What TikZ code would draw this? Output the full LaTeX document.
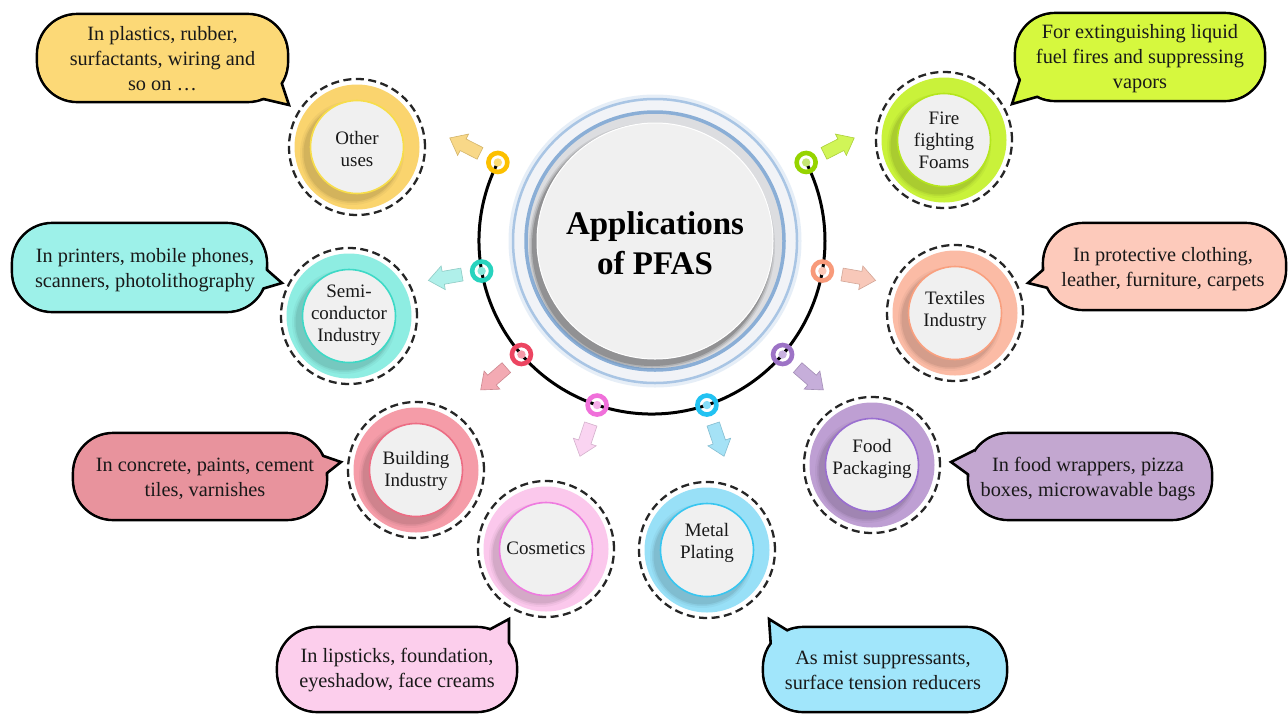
\documentclass[tikz,border=0pt]{standalone}
\usepackage{fontspec}
\setmainfont{Liberation Serif}
\definecolor{innerGray}{HTML}{F0F0F0}
\definecolor{yRing}{HTML}{FAD46E}\definecolor{yEdge}{HTML}{F7DD4A}\definecolor{yCall}{HTML}{FCD977}\definecolor{yDot}{HTML}{FCC000}\definecolor{yArr}{HTML}{F8D47C}
\definecolor{gRing}{HTML}{C9F23A}\definecolor{gEdge}{HTML}{B5E61D}\definecolor{gCall}{HTML}{D6F83E}\definecolor{gDot}{HTML}{96D400}\definecolor{gArr}{HTML}{CCF545}
\definecolor{tRing}{HTML}{8EEDE2}\definecolor{tEdge}{HTML}{3ED9C6}\definecolor{tCall}{HTML}{9DF1E9}\definecolor{tDot}{HTML}{27D3BE}\definecolor{tArr}{HTML}{A8EFE8}
\definecolor{oRing}{HTML}{FBBBA5}\definecolor{oEdge}{HTML}{F9A07F}\definecolor{oCall}{HTML}{FDCABB}\definecolor{oDot}{HTML}{F89A7A}\definecolor{oArr}{HTML}{F8C3B2}
\definecolor{rRing}{HTML}{F59CA8}\definecolor{rEdge}{HTML}{EC6D84}\definecolor{rCall}{HTML}{E8939D}\definecolor{rDot}{HTML}{EC4561}\definecolor{rArr}{HTML}{F2A1AB}
\definecolor{pRing}{HTML}{BE9FD3}\definecolor{pEdge}{HTML}{9A6FD0}\definecolor{pCall}{HTML}{C3A7D0}\definecolor{pDot}{HTML}{9D73C6}\definecolor{pArr}{HTML}{C0A6D6}
\definecolor{kRing}{HTML}{FBC8EC}\definecolor{kEdge}{HTML}{EE7BDF}\definecolor{kCall}{HTML}{FCCEEC}\definecolor{kDot}{HTML}{F070DA}\definecolor{kArr}{HTML}{FAD0F0}
\definecolor{bRing}{HTML}{98E0F7}\definecolor{bEdge}{HTML}{38C6F0}\definecolor{bCall}{HTML}{A1E6FB}\definecolor{bDot}{HTML}{22C2F2}\definecolor{bArr}{HTML}{9CDFF6}
\definecolor{cGlow}{HTML}{B8D0EA}\definecolor{cOut}{HTML}{F1F3F7}\definecolor{cRingA}{HTML}{A9C5E4}\definecolor{cRingB}{HTML}{8AAED6}\definecolor{cMid}{HTML}{DCDDE0}
\tikzset{
 dashring/.style={draw=black!85, line width=2.3pt, dash pattern=on 8pt off 4.5pt},
 nodetext/.style={align=center, font=\fontsize{19}{22}\selectfont, text=black!90, inner sep=0pt},
 calltext/.style={align=center, font=\fontsize{20.3}{25}\selectfont, text=black!90, inner sep=0pt},
 callbox/.style={draw=black, line width=2.6pt, rounded corners=40pt},
 calledge/.style={draw=black, line width=2.6pt, line join=miter},
 dotring/.style={circle, minimum size=19pt, inner sep=0pt, line width=4.6pt},
 titletext/.style={align=center, font=\fontsize{33}{40}\selectfont\bfseries, text=black},
 arrowshape/.style={line width=0.6pt, fill opacity=0.9},
}
\newcommand{\pfasnode}[6]{%
  \draw[dashring] (#2,#3) circle[radius=68];
  \fill[#4Ring] (#2,#3) circle[radius=62.5];
  \foreach \rr/\oo in {52/0.08,50/0.12,48.5/0.18}{\fill[#4Ring!55!black, opacity=\oo] (#2-5,#3-6) circle[radius=\rr];}
  \filldraw[fill=innerGray, draw=#4Edge, line width=1.6pt] (#2,#3) circle[radius=46.5];
  \node[nodetext] (#1) at (#2,#6) {#5};
}
\newcommand{\callshape}[6]{%
  \filldraw[callbox, fill=#1] (#2,#3) rectangle (#4,#5);
  \fill[#1] #6 -- cycle;
  \draw[calledge] #6;
  \fill[#1, rounded corners=38.6pt] (#2+1.4,#3-1.4) rectangle (#4-1.4,#5+1.4);
}
\newcommand{\blockarrow}[2]{%
  \filldraw[arrowshape, fill=#2, draw=#2!85!black, shift={(C)}, rotate=#1]
    (193,-6.5) -- (212,-6.5) -- (212,-12) -- (227,0) -- (212,12) -- (212,6.5) -- (193,6.5) -- cycle;
}
\begin{document}
\begin{tikzpicture}[x=1pt,y=1pt]
\useasboundingbox (0,0) rectangle (1288,-713);
\fill[white] (0,0) rectangle (1288,-713);
\coordinate (C) at (652,-241);
\coordinate (CC) at (655,-241);
% central circle
\draw[cGlow, line width=7pt, opacity=.35] (CC) circle[radius=143];
\filldraw[fill=cOut, draw=cRingA, line width=2.5pt] (CC) circle[radius=142];
\filldraw[fill=cMid, draw=cRingB, line width=3.5pt] (CC) circle[radius=129];
\foreach \rr/\oo in {123/0.08,121.5/0.12,120/0.18}{\fill[black, opacity=\oo] (652,-246) circle[radius=\rr];}
\filldraw[fill=innerGray, draw=white, line width=1pt] (CC) circle[radius=118];
\node[titletext] (title) at (655,-243) {Applications\\of PFAS};
% arc
\draw[line width=3pt] ([shift={(153:173)}]C) arc[start angle=153, end angle=387, radius=173];
% arrows
\foreach \a/\c in {153/yArr,190/tArr,221/rArr,251.5/kArr,288.5/bArr,319/pArr,350/oArr,27/gArr}{\blockarrow{\a}{\c}}
% dots
\foreach \a/\c [count=\i] in {153/yDot,190/tDot,221/rDot,251.5/kDot,288.5/bDot,319/pDot,350/oDot,27/gDot}{
  \node[dotring, draw=\c] (dot\i) at ([shift={(\a:173)}]C) {};
  \fill[\c!55!white] (dot\i.center) circle[radius=4.2];
}
% application nodes
\pfasnode{other}{357}{-147}{y}{Other\\uses}{-149}
\pfasnode{fire}{944}{-140}{g}{Fire\\fighting\\Foams}{-140}
\pfasnode{semi}{349}{-316}{t}{Semi-\\conductor\\Industry}{-315}
\pfasnode{textile}{955}{-313}{o}{Textiles\\Industry}{-311}
\pfasnode{building}{416}{-470}{r}{Building\\Industry}{-471}
\pfasnode{food}{872}{-465}{p}{Food\\Packaging}{-459}
\pfasnode{cosmetics}{546}{-549}{k}{Cosmetics}{-548}
\pfasnode{metal}{707}{-550}{b}{Metal\\Plating}{-543}
% callouts
\callshape{yCall}{37}{-14}{288}{-102}{(255,-97) -- (289,-105) -- (280,-78)}
\node[calltext] (cOther) at (162.5,-59) {In plastics, rubber,\\surfactants, wiring and\\so on …};
\callshape{gCall}{1015}{-13}{1265}{-101}{(1040,-96) -- (1012,-104) -- (1021,-76)}
\node[calltext] (cFire) at (1140,-59) {For extinguishing liquid\\fuel fires and suppressing\\vapors};
\callshape{tCall}{12}{-223}{267}{-312}{(258,-262) -- (282,-283) -- (255,-291)}
\node[calltext] (cSemi) at (145,-270) {In printers, mobile phones,\\scanners, photolithography};
\callshape{rCall}{73}{-433}{327}{-520}{(312,-452) -- (341,-462) -- (322,-477)}
\node[calltext] (cBuild) at (205,-479) {In concrete, paints, cement\\tiles, varnishes};
\callshape{kCall}{277}{-627}{517}{-712}{(485,-632) -- (509,-619) -- (509,-648)}
\node[calltext] (cCos) at (397,-670) {In lipsticks, foundation,\\eyeshadow, face creams};
\callshape{bCall}{763}{-627}{1007}{-712}{(790,-632) -- (769,-619) -- (771,-648)}
\node[calltext] (cMetal) at (883,-670) {As mist suppressants,\\surface tension reducers};
\callshape{pCall}{968}{-433}{1212}{-520}{(975,-450) -- (951,-462) -- (973,-478)}
\node[calltext] (cFood) at (1088,-479) {In food wrappers, pizza\\boxes, microwavable bags};
\callshape{oCall}{1043}{-223}{1286}{-310}{(1052,-262) -- (1028,-283) -- (1048,-288)}
\node[calltext] (cTex) at (1163,-269) {In protective clothing,\\leather, furniture, carpets};
\end{tikzpicture}
\end{document}
